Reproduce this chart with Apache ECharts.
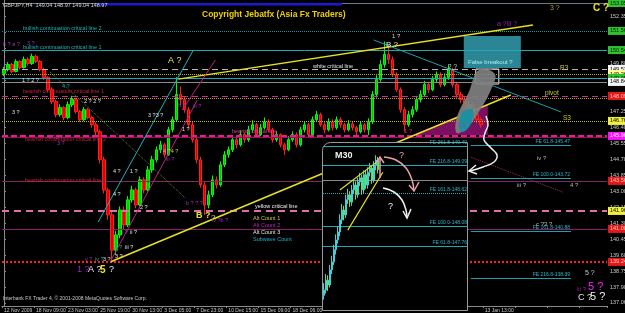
<!DOCTYPE html>
<html><head><meta charset="utf-8">
<script src="https://cdn.jsdelivr.net/npm/echarts@6/dist/echarts.min.js"></script>
<style>html,body{margin:0;padding:0;background:#000;}#c{width:625px;height:313px;}</style>
</head><body><div id="c"></div>
<script>
const FF = '"Liberation Sans", Arial, sans-serif';
// ---- data ----
const xTickLabels = ['12 Nov 2009','18 Nov 09:00','23 Nov 03:00','25 Nov 19:00','30 Nov 13:00','3 Dec 05:00','7 Dec 23:00','10 Dec 15:00','15 Dec 09:00','18 Dec 06:00','','','','','','13 Jan 13:00','','',''];
const yTickValues = [137.06,137.90,138.75,139.60,140.45,141.30,142.15,143.00,143.85,144.70,145.55,146.40,147.25,148.10,148.95,149.80,150.65,151.50,152.35];
const opens = [149.30,149.50,149.77,149.40,149.93,149.61,150.04,149.82,150.20,149.93,
 149.50,149.08,148.43,147.79,147.10,147.47,146.94,147.63,147.90,147.26,
 146.83,147.36,146.94,146.56,146.19,144.69,143.08,141.75,139.87,140.68,
 142.01,141.21,142.55,143.08,142.28,143.62,143.08,144.15,144.69,145.22,
 145.49,144.96,146.29,146.83,148.17,147.90,147.36,146.56,145.76,144.69,
 143.35,142.28,142.82,143.62,143.35,144.42,144.96,145.22,145.76,145.49,
 146.03,145.76,146.29,146.56,146.03,146.40,146.72,146.29,145.76,146.03,
 145.49,145.22,145.76,146.03,145.49,146.29,146.56,146.03,146.83,147.10,
 146.56,146.29,146.72,146.40,146.83,146.56,146.29,146.61,146.40,146.19,
 146.56,146.29,146.72,148.17,148.97,149.77,150.31,150.04,149.24,148.43,
 147.36,146.56,147.10,147.36,147.90,148.17,148.70,148.43,148.97,149.24,
 148.70,149.08,149.50,148.70,148.17,147.90,147.36,147.63,147.10,146.83];
const closes = [149.50,149.77,149.40,149.93,149.61,150.04,149.82,150.20,149.93,149.50,
 149.08,148.43,147.79,147.10,147.47,146.94,147.63,147.90,147.26,146.83,
 147.36,146.94,146.56,146.19,144.69,143.08,141.75,139.87,140.68,142.01,
 141.21,142.55,143.08,142.28,143.62,143.08,144.15,144.69,145.22,145.49,
 144.96,146.29,146.83,148.17,147.90,147.36,146.56,145.76,144.69,143.35,
 142.28,142.82,143.62,143.35,144.42,144.96,145.22,145.76,145.49,146.03,
 145.76,146.29,146.56,146.03,146.40,146.72,146.29,145.76,146.03,145.49,
 145.22,145.76,146.03,145.49,146.29,146.56,146.03,146.83,147.10,146.56,
 146.29,146.72,146.40,146.83,146.56,146.29,146.61,146.40,146.19,146.56,
 146.29,146.72,148.17,148.97,149.77,150.31,150.04,149.24,148.43,147.36,
 146.56,147.10,147.36,147.90,148.17,148.70,148.43,148.97,149.24,148.70,
 149.08,149.50,148.70,148.17,147.90,147.36,147.63,147.10,146.83,146.56];
const lows = [149.15,149.40,149.30,149.35,149.50,149.55,149.70,149.75,149.85,149.40,
 148.95,148.30,147.65,146.95,147.00,146.80,146.85,147.50,147.15,146.70,
 146.75,146.85,146.40,146.00,144.50,142.90,141.50,139.24,139.60,140.50,
 141.00,141.10,142.40,142.10,142.20,142.90,143.00,144.00,144.55,145.05,
 144.80,144.90,146.15,146.75,147.60,147.20,146.40,145.60,144.50,143.20,
 141.75,142.10,142.70,143.15,143.25,144.30,144.80,145.10,145.30,145.40,
 145.60,145.65,146.15,145.90,145.95,146.30,146.15,145.60,145.65,145.35,
 144.95,145.15,145.65,145.35,145.40,146.15,145.90,145.95,146.70,146.45,
 146.10,146.20,146.25,146.30,146.40,146.15,146.20,146.25,146.00,146.10,
 146.15,146.00,146.60,148.00,148.85,149.60,149.80,149.10,148.30,147.20,
 146.19,146.45,146.95,147.25,147.75,148.05,148.25,148.35,148.80,148.55,
 148.60,148.95,148.55,148.00,147.70,147.20,147.25,146.95,146.65,146.40];
const highs = [149.65,149.90,149.85,150.05,150.00,150.20,150.15,150.35,150.30,150.00,
 149.60,149.15,148.55,147.90,147.65,147.55,147.80,148.10,148.00,147.35,
 147.50,147.45,147.05,146.70,146.30,144.85,143.20,141.90,140.90,142.20,
 142.20,142.75,143.30,143.20,143.80,143.75,144.35,144.90,145.40,145.70,
 145.60,146.45,147.00,149.10,148.60,148.05,147.50,146.70,145.90,144.85,
 143.50,143.05,143.85,143.80,144.60,145.15,145.40,145.95,145.90,146.25,
 146.15,146.50,146.80,146.65,146.60,146.95,146.85,146.40,146.20,146.10,
 145.60,145.95,146.20,146.15,146.45,146.75,146.65,147.00,147.30,147.20,
 146.70,146.90,146.85,147.00,146.95,146.65,146.80,146.75,146.50,146.70,
 146.65,146.90,148.35,149.20,150.00,151.00,150.80,150.20,149.35,148.55,
 147.50,147.30,147.55,148.10,148.40,148.90,148.85,149.15,149.40,149.35,
 149.30,149.77,149.60,148.85,148.30,148.05,147.85,147.75,147.25,146.95];
const insetOpens = [146.95,147.04,147.20,147.12,147.37,147.50,147.70,147.86,147.99,148.19,148.35,148.27,148.52,148.60,148.48,148.68,148.76,148.60,148.81,148.88,148.68,148.93,148.76,148.97,149.04,148.84,149.09,149.17];
const insetCloses = [147.04,147.20,147.12,147.37,147.50,147.70,147.86,147.99,148.19,148.35,148.27,148.52,148.60,148.48,148.68,148.76,148.60,148.81,148.88,148.68,148.93,148.76,148.97,149.04,148.84,149.09,149.17,149.01];
const insetLows = [146.88,146.98,147.02,147.08,147.30,147.45,147.62,147.80,147.92,148.12,148.18,148.22,148.45,148.40,148.42,148.62,148.52,148.55,148.74,148.60,148.62,148.70,148.70,148.90,148.78,148.80,149.00,148.95];
const insetHighs = [147.15,147.30,147.28,147.45,147.60,147.78,147.95,148.08,148.28,148.45,148.42,148.60,148.70,148.66,148.76,148.85,148.82,148.88,148.96,148.93,149.00,149.00,149.05,149.12,149.08,149.15,149.25,149.22];
const levelPrices = [153.05,151.56,150.54,149.53,149.26,149.05,148.84,148.09,147.98,146.76,145.96,145.90,143.56,141.96,141.00,139.24];
const trendLines = [[26.5,139.24,126.5,148.14],[43.5,148.99,132,151.88],[92.25,151.08,139,147.24],[23.5,141.37,47.25,150.54],[26.5,139.24,48.25,147.87],[44.5,147.34,52.75,150.01],[-1,148.57,12.25,150.06],[-1,147.34,31.5,144.78],[11.5,149.37,45.25,142.65],[116.5,144.83,139.5,142.96]];
const feRightPrices = [145.47,143.72,140.88,138.39];
const feRightNames = ['FE 61.8-145.47','FE 100.0-143.72','FE 161.8-140.88','FE 216.8-138.39'];
const insetLevels = [149.40,149.09,148.84,148.62,148.08,147.76];
const insetLevelNames = ['FE 261.8-149.40','FE 216.8-149.09','','FE 161.8-148.62','FE 100.0-148.08','FE 61.8-147.76'];
const insetTrend = [[8,148.68,26.6,149.14],[12,148.02,29.6,148.97]];
const falseBreakoutBox = [114.75,151.29,129,149.58];
const whiteBox = [117.75,149.53,123.5,148.73];
const triangleShape = [[102,146.01],[120.75,147.66],[120.75,146.01]];
const grayBlob = [[118.5,149.48],[122.5,149.26],[121.5,148.41],[118.5,147.24],[115.5,146.38],[113,146.12],[113,146.92],[116,148.30]];
const tealBlob = [[114.5,147.23],[117,147.34],[116.5,146.60],[114.5,146.17],[113.5,146.38]];

// ---- styles ----
const levelStyles = [
 {c:'#6a7a8a',t:'solid',w:1,box:'#30c030',fg:'#002000'},
 {c:'#1e9a9a',t:'dotted',w:1,box:'#30c030',fg:'#002000'},
 {c:'#1ea8b8',t:'solid',w:1,box:'#30c030',fg:'#002000'},
 {c:'#b8b8b8',t:[6,4],w:1.2,box:'#f4f4f4',fg:'#000'},
 {c:'#a8a830',t:'dotted',w:1,box:'#ffff90',fg:'#000'},
 {c:'#1ea8b8',t:'solid',w:1,box:'#30c030',fg:'#002000'},
 {c:'#8c8c8c',t:'solid',w:1,box:'#f4f4f4',fg:'#000'},
 {c:'#c8308a',t:[6,4],w:1.2,box:'#e01818',fg:'#ffc0c0'},
 {c:'#a0a028',t:'dotted',w:1,box:null},
 {c:'#b8b830',t:'dotted',w:1,box:'#f0f040',fg:'#000'},
 {c:'#e0208a',t:[6,3],w:2,box:'#ff10ff',fg:'#fff'},
 {c:'#a01060',t:'solid',w:1,box:null},
 {c:'#802860',t:'solid',w:1,box:'#e01818',fg:'#ffc0c0'},
 {c:'#e070a8',t:[7,5],w:2,box:'#f0f040',fg:'#000'},
 {c:'#8a2068',t:'solid',w:1,box:'#e01818',fg:'#ffc0c0'},
 {c:'#ff2020',t:'dotted',w:2,box:'#e01818',fg:'#ffc0c0'}
];
const trendStyles = [
 {c:'#e8e020',t:'solid',w:1.5},{c:'#e8e020',t:'solid',w:1.5},{c:'#1aa0b0',t:'solid',w:1},{c:'#20b0c0',t:'solid',w:1},
 {c:'#c02080',t:'solid',w:1},{c:'#c02080',t:'solid',w:1},{c:'#c02080',t:'solid',w:1},{c:'#902040',t:'solid',w:1},
 {c:'#708030',t:'dotted',w:1},{c:'#a03050',t:'dotted',w:1}
];
const insetLevelStyles = [
 {c:'#1ea8b8',t:'solid'},{c:'#1ea8b8',t:'solid'},{c:'#8a8a8a',t:'solid'},{c:'#1ea8b8',t:'dotted'},{c:'#1ea8b8',t:'solid'},{c:'#1ea8b8',t:'solid'}
];

const notes = [
 [3,5,'GBPJPY,H4  149.04 148.97 149.04 148.97','#d8d8d8',5.5],
 [202,15,'Copyright Jebatfx (Asia Fx Traders)','#f0d000',8.5,'bold'],
 [23,28,'bullish continuation critical line 2','#22b4b4',5.5],
 [23,47,'bullish continuation critical line 1','#22b4b4',5.5],
 [313,66,'white critical line','#e6e6e6',5.5],
 [560,68,'R3','#c8c850',6.5],
 [545,93,'pivot','#c8c040',6.5],
 [563,118,'S3','#c8c040',6.5],
 [23,91,'bearish continuation critical line 1','#c8203c',5.5],
 [25,139,'bearish continuation critical line 2','#c8203c',5.5],
 [25,180,'bearish continuation critical line','#c8203c',5.5],
 [232,131,'bearish critical line','#e0409a',5.5],
 [255,206,'yellow critical line','#f0f0f0',5.5],
 [253,218,'Alt Count 1','#c8c840',5.5],
 [253,225,'Alt Count 2','#c020c0',5.5],
 [253,232,'Alt Count 3','#e6e6e6',5.5],
 [253,239,'Subwave Count','#20b0c8',5.5],
 [3,299,'Interbank FX Trader 4, \u00a9 2001-2008 MetaQuotes Software Corp.','#c8c8c8',5],
 [168,61,'A ?','#e8e070',9],
 [196,216,'B ?','#e8e020',9,'bold'],
 [211,218,'?','#e8e020',8],
 [392,36,'1 ?','#d0d0d0',6],
 [386,45,'B ?','#e8e8e8',8],
 [77,270,'1 ?','#a020c0',9],
 [88,270,'A ?','#f0f0f0',9],
 [100,270,'5','#f0e020',10,'bold'],
 [109,270,'?','#f0f0f0',9],
 [550,8,'3 ?','#a8a030',7],
 [593,8,'C ?','#e8e020',10,'bold'],
 [497,24,'a ?iii ?','#8a20b0',7],
 [448,67,'2 ?','#c8c8c8',6.5],
 [404,131,'1 ?','#c03090',6],
 [458,125,'1 ?','#c03080',5.5],
 [537,158,'iv ?','#b8b8b8',6],
 [517,185,'iii ?','#b8b8b8',6],
 [570,185,'4 ?','#b8b8b8',6],
 [536,224,'c ?3 ?','#b8b8b8',6],
 [585,273,'5 ?','#c8c8c8',7],
 [577,289,'iii ?','#a020a0',6],
 [588,287,'5 ?','#ff20ff',11],
 [578,298,'C ?','#e8e8e8',9],
 [590,297,'5 ?','#f0f0f0',11],
 [335,156,'M30','#f0f0f0',9,'bold'],
 [399,156,'?','#e8a8b0',9],
 [388,207,'?','#f0f0f0',9],
 [468,62,'False breakout ?','#a8f0f0',6],
 [3,44,'b ? a ?','#a030c0',5.5],
 [27,43,'3 ?','#a030c0',5.5],
 [22,80,'1 ? 2 ?','#e0e0e0',5.5],
 [62,86,'4 ?','#20b0b0',5.5],
 [84,101,'2 ? 2 ?','#e0e0e0',5.5],
 [12,112,'3 ?','#e0e0e0',5.5],
 [48,137,'4 ?3 ?','#c03090',5.5],
 [57,143,'3 ?','#a030c0',5.5],
 [148,115,'3 ?3 ?','#e0e0e0',5.5],
 [178,105,'b ?','#a030c0',5.5],
 [193,106,'iii ?','#a030c0',5.5],
 [182,129,'1 ?','#e0e0e0',5.5],
 [163,151,'4 ?4 ?','#c8c840',5.5],
 [166,159,'iii ?','#a030c0',5.5],
 [113,171,'4 ?','#e0e0e0',5.5],
 [130,171,'1 ?','#e0e0e0',5.5],
 [113,194,'4 ?','#e0e0e0',5.5],
 [140,207,'2 ?','#e0e0e0',5.5],
 [186,203,'b ? ? ?','#a030c0',5.5],
 [212,220,'iv ?b ?','#a030c0',5.5],
 [122,232,'i ?','#a030c0',5.5],
 [130,232,'ii ?','#e0e0e0',5.5],
 [115,247,'ii ?','#20b0b0',5.5],
 [125,247,'iii ?','#e0e0e0',5.5],
 [85,259,'v ?','#a030c0',5.5],
 [95,259,'iv ?','#20b0b0',5.5],
 [103,259,'3 ?','#e0e0e0',5.5],
 [115,256,'3 ?','#e0e0e0',5.5]
];

// ---- build ----
const mainCats = Array.from({length:151}, (_, i) => i);
const insetCats = Array.from({length:73}, (_, i) => i);
const candles = closes.map((c, i) => [opens[i], c, lows[i], highs[i]]);
const insetCandles = insetCloses.map((c, i) => [insetOpens[i], c, insetLows[i], insetHighs[i]]);

const levelLines = levelPrices.map((p, i) => {
  const s = levelStyles[i];
  return {
    yAxis: p,
    lineStyle: {color: s.c, type: s.t, width: s.w},
    label: s.box ? {show: true, position: 'end', distance: 1, formatter: p.toFixed(2), backgroundColor: s.box, color: s.fg, fontSize: 5.5, fontFamily: FF, padding: [1, 2], lineHeight: 6} : {show: false}
  };
});
const trendItems = trendLines.map((t, i) => [
  {coord: [t[0], t[1]], lineStyle: {color: trendStyles[i].c, type: trendStyles[i].t, width: trendStyles[i].w}},
  {coord: [t[2], t[3]]}
]);
const feItems = feRightPrices.map((p, i) => [
  {coord: [116.5, p], lineStyle: {color: '#1ea0b0', type: 'solid', width: 1},
   label: {show: true, position: 'insideEndTop', distance: 1, formatter: feRightNames[i], color: '#28b8c8', fontSize: 5, fontFamily: FF}},
  {coord: [141.5, p]}
]);
const insetLevelItems = insetLevels.map((p, i) => ({
  yAxis: p,
  lineStyle: {color: insetLevelStyles[i].c, type: insetLevelStyles[i].t, width: 1},
  label: insetLevelNames[i] ? {show: true, position: 'insideEndTop', distance: 1, formatter: insetLevelNames[i], color: '#28b8c8', fontSize: 5, fontFamily: FF} : {show: false}
}));
const insetTrendItems = insetTrend.map(t => [
  {coord: [t[0], t[1]], lineStyle: {color: '#e8e020', width: 1.2, type: 'solid'}},
  {coord: [t[2], t[3]]}
]);

const polyLow = [{pts: triangleShape, fill: '#7a1060', smooth: 0}];
const polyHigh = [{pts: grayBlob, fill: 'rgba(128,128,128,0.92)', smooth: 0.4}, {pts: tealBlob, fill: '#1a90a0', smooth: 0.4}];
function polyRender(list) {
  return function (params, api) {
    const s = list[params.dataIndex];
    return {type: 'polygon', shape: {points: s.pts.map(p => api.coord(p)), smooth: s.smooth}, style: {fill: s.fill}};
  };
}

const graphics = [
  {type: 'rect', shape: {x: 322.5, y: 142.5, width: 145, height: 168, r: [8, 0, 0, 0]}, style: {fill: '#000', stroke: '#9a9a9a', lineWidth: 1}, z: 50},
  {type: 'rect', shape: {x: 97, y: 3, width: 245, height: 2.5}, style: {fill: '#1a1ad0'}, z: 100},
  {type: 'polyline', shape: {points: [[486,116],[488,125],[485,133],[484,140],[491,148],[497,155],[494,162],[483,167],[470,171]], smooth: 0.4}, style: {stroke: '#f0f0f0', lineWidth: 1.5, fill: null}, z: 100},
  {type: 'polyline', shape: {points: [[476,165],[469,171],[477,174]]}, style: {stroke: '#f0f0f0', lineWidth: 1.5, fill: null}, z: 100},
  {type: 'line', shape: {x1: 380, y1: 178, x2: 380, y2: 158}, style: {stroke: '#e8a0a8', lineWidth: 1.5}, z: 100},
  {type: 'polyline', shape: {points: [[376,163],[380,157],[384,163]]}, style: {stroke: '#e8a0a8', lineWidth: 1.5, fill: null}, z: 100},
  {type: 'polyline', shape: {points: [[384,157],[396,160],[406,168],[412,180],[414,191]], smooth: 0.4}, style: {stroke: '#e8a0a8', lineWidth: 1.5, fill: null}, z: 100},
  {type: 'polyline', shape: {points: [[409,185],[414,191],[419,182]]}, style: {stroke: '#e8a0a8', lineWidth: 1.5, fill: null}, z: 100},
  {type: 'polyline', shape: {points: [[383,188],[394,192],[402,200],[406,210],[407,218]], smooth: 0.4}, style: {stroke: '#f0f0f0', lineWidth: 1.5, fill: null}, z: 100},
  {type: 'polyline', shape: {points: [[403,211],[407,218],[411,209]]}, style: {stroke: '#f0f0f0', lineWidth: 1.5, fill: null}, z: 100}
].concat(notes.map(n => ({
  type: 'text', x: n[0], y: n[1], z: 100,
  style: {text: n[2], fill: n[3], fontSize: n[4], fontWeight: n[5] || 'normal', fontFamily: FF, verticalAlign: 'middle'}
})));

const option = {
  backgroundColor: '#000',
  animation: false,
  grid: [
    {left: 2, right: 18, top: 0, bottom: 7, containLabel: false, outerBoundsMode: 'none'},
    {left: 323, top: 142, width: 145, height: 168, containLabel: false, outerBoundsMode: 'none'}
  ],
  xAxis: [
    {type: 'category', gridIndex: 0, data: mainCats, boundaryGap: true,
     axisLine: {show: true, lineStyle: {color: '#8a8a8a'}},
     axisTick: {show: true, interval: (i) => i % 8 === 0, length: 2, lineStyle: {color: '#8a8a8a'}},
     axisLabel: {interval: (i) => i % 8 === 0, formatter: (v, i) => xTickLabels[i / 8] || '', color: '#c8c8c8', fontSize: 5, fontFamily: FF, align: 'left', margin: 2},
     splitLine: {show: false}},
    {type: 'value', gridIndex: 0, min: -0.5, max: 150.5, show: false},
    {type: 'category', gridIndex: 1, data: insetCats, show: false},
    {type: 'value', gridIndex: 1, min: -0.5, max: 72.5, show: false}
  ],
  yAxis: [
    {type: 'value', gridIndex: 0, position: 'right', min: 136.89, max: 153.21, splitLine: {show: false},
     axisLine: {show: true, lineStyle: {color: '#8a8a8a'}},
     axisTick: {show: true, length: 2, customValues: yTickValues, lineStyle: {color: '#8a8a8a'}},
     axisLabel: {customValues: yTickValues, formatter: v => Number(v).toFixed(2), color: '#c8c8c8', fontSize: 5.5, fontFamily: FF, margin: 3}},
    {type: 'value', gridIndex: 1, min: 146.71, max: 149.466, show: false, splitLine: {show: false}}
  ],
  series: [
    {type: 'custom', xAxisIndex: 1, yAxisIndex: 0, z: 1, silent: true, data: [[0, 140]], renderItem: polyRender(polyLow)},
    {type: 'candlestick', xAxisIndex: 0, yAxisIndex: 0, z: 2, data: candles, barWidth: 3,
     itemStyle: {color: '#00c800', color0: '#e00000', borderColor: '#00ff00', borderColor0: '#ff2020', borderWidth: 1},
     markLine: {symbol: ['none', 'none'], silent: true, animation: false, data: levelLines}},
    {type: 'line', xAxisIndex: 1, yAxisIndex: 0, z: 3, data: [[0, 140]], symbol: 'none', showSymbol: false, lineStyle: {opacity: 0}, silent: true,
     markLine: {symbol: ['none', 'none'], silent: true, animation: false, label: {show: false}, data: trendItems.concat(feItems)},
     markArea: {silent: true, data: [
       [{coord: [falseBreakoutBox[0], falseBreakoutBox[1]], itemStyle: {color: '#2b8595'}}, {coord: [falseBreakoutBox[2], falseBreakoutBox[3]]}],
       [{coord: [whiteBox[0], whiteBox[1]], itemStyle: {color: 'rgba(0,0,0,0)', borderColor: '#f0f0f0', borderWidth: 1}}, {coord: [whiteBox[2], whiteBox[3]]}]
     ]}},
    {type: 'custom', xAxisIndex: 1, yAxisIndex: 0, z: 6, silent: true, data: [[0, 140], [1, 140]], renderItem: polyRender(polyHigh)},
    {type: 'candlestick', xAxisIndex: 2, yAxisIndex: 1, z: 60, data: insetCandles, barWidth: 1.4,
     itemStyle: {color: '#20a8b0', color0: '#0f7f88', borderColor: '#40d0d8', borderColor0: '#60e060', borderWidth: 1},
     markLine: {z: 58, symbol: ['none', 'none'], silent: true, animation: false, data: insetLevelItems}},
    {type: 'line', xAxisIndex: 3, yAxisIndex: 1, z: 61, data: [[0, 147]], symbol: 'none', showSymbol: false, lineStyle: {opacity: 0}, silent: true,
     markLine: {z: 62, symbol: ['none', 'none'], silent: true, animation: false, label: {show: false}, data: insetTrendItems}}
  ],
  graphic: graphics
};
const chart = echarts.init(document.getElementById('c'), null, {width: 625, height: 313});
chart.setOption(option);
</script></body></html>
